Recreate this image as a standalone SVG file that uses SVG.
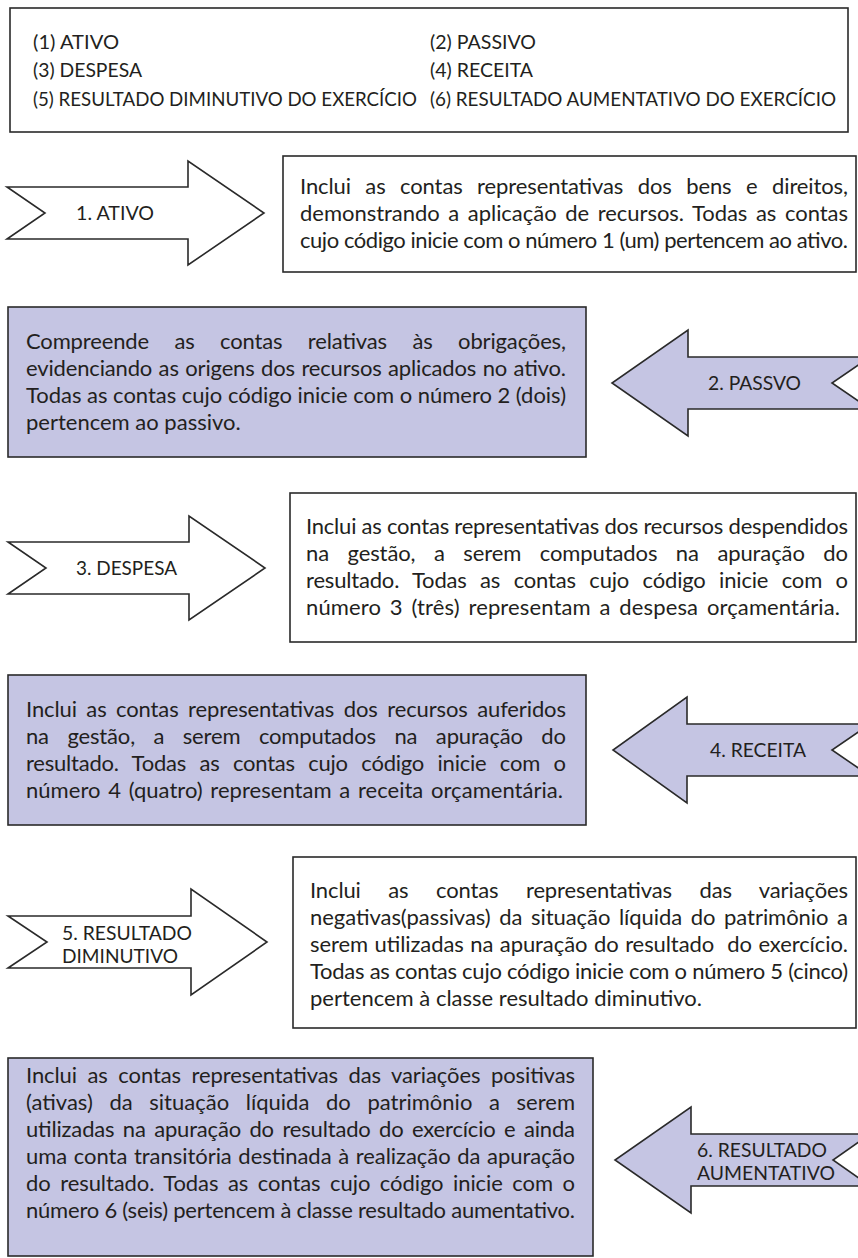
<svg xmlns="http://www.w3.org/2000/svg" width="858" height="1258" viewBox="0 0 858 1258">
<style>
.t{font-family:Lato,"Liberation Sans",sans-serif;font-size:22px;fill:#231f20}
.lg{font-size:20px}
.le{font-size:19px}
.wb{fill:#ffffff;stroke:#2a2a2a;stroke-width:1.6}
.pb{fill:#c5c5e3;stroke:#2a2a2a;stroke-width:1.6}
.ar{stroke-linejoin:miter}
</style>
<rect width="858" height="1258" fill="#ffffff"/>
<g id="legend">
<rect class="wb" x="10" y="8" width="838" height="124"/>
<text class="t le" x="33" y="49" textLength="86" lengthAdjust="spacingAndGlyphs">(1) ATIVO</text>
<text class="t le" x="430" y="49" textLength="106" lengthAdjust="spacingAndGlyphs">(2) PASSIVO</text>
<text class="t le" x="33" y="77" textLength="109" lengthAdjust="spacingAndGlyphs">(3) DESPESA</text>
<text class="t le" x="430" y="77" textLength="103" lengthAdjust="spacingAndGlyphs">(4) RECEITA</text>
<text class="t le" x="33" y="106" textLength="384" lengthAdjust="spacingAndGlyphs">(5) RESULTADO DIMINUTIVO DO EXERCÍCIO</text>
<text class="t le" x="430" y="106" textLength="406" lengthAdjust="spacingAndGlyphs">(6) RESULTADO AUMENTATIVO DO EXERCÍCIO</text>
</g>
<g id="arrow-1">
<path class="wb ar" d="M7,187 L188,187 L188,161 L264,213 L188,265 L188,239 L7,239 L45,213 Z"/>
<text class="t lg" x="76" y="220" textLength="78" lengthAdjust="spacingAndGlyphs">1. ATIVO</text>
</g>
<g id="box-1">
<rect class="wb" x="283" y="156" width="573" height="116"/>
<text class="t" x="300" y="194" word-spacing="9" textLength="548" lengthAdjust="spacing">Inclui as contas representativas dos bens e direitos,</text>
<text class="t" x="300" y="221" word-spacing="3" textLength="548" lengthAdjust="spacing">demonstrando a aplicação de recursos. Todas as contas</text>
<text class="t" x="300" y="248" textLength="548" lengthAdjust="spacing">cujo código inicie com o número 1 (um) pertencem ao ativo.</text>
</g>
<g id="box-2">
<rect class="pb" x="8" y="307" width="578" height="150"/>
<text class="t" x="26" y="349" word-spacing="20" textLength="540" lengthAdjust="spacing">Compreende as contas relativas às obrigações,</text>
<text class="t" x="26" y="376" word-spacing="1" textLength="540" lengthAdjust="spacing">evidenciando as origens dos recursos aplicados no ativo.</text>
<text class="t" x="26" y="403" textLength="540" lengthAdjust="spacing">Todas as contas cujo código inicie com o número 2 (dois)</text>
<text class="t" x="26" y="430">pertencem ao passivo.</text>
</g>
<g id="arrow-2">
<path class="pb ar" d="M870,357 L688,357 L688,330 L612,383 L688,436 L688,409 L870,409 L832,383 Z"/>
<text class="t lg" x="708" y="390" textLength="93" lengthAdjust="spacingAndGlyphs">2. PASSVO</text>
</g>
<g id="arrow-3">
<path class="wb ar" d="M8,542 L189,542 L189,516 L265,568 L189,620 L189,594 L8,594 L46,568 Z"/>
<text class="t lg" x="76" y="575" textLength="101" lengthAdjust="spacingAndGlyphs">3. DESPESA</text>
</g>
<g id="box-3">
<rect class="wb" x="290" y="493" width="566" height="149"/>
<text class="t" x="306" y="534" textLength="542" lengthAdjust="spacing">Inclui as contas representativas dos recursos despendidos</text>
<text class="t" x="306" y="561" word-spacing="13" textLength="542" lengthAdjust="spacing">na gestão, a serem computados na apuração do</text>
<text class="t" x="306" y="588" word-spacing="8" textLength="542" lengthAdjust="spacing">resultado. Todas as contas cujo código inicie com o</text>
<text class="t" x="306" y="615" word-spacing="3" textLength="534" lengthAdjust="spacing">número 3 (três) representam a despesa orçamentária.</text>
</g>
<g id="box-4">
<rect class="pb" x="8" y="675" width="578" height="150"/>
<text class="t" x="26" y="717" word-spacing="4" textLength="540" lengthAdjust="spacing">Inclui as contas representativas dos recursos auferidos</text>
<text class="t" x="26" y="744" word-spacing="13" textLength="540" lengthAdjust="spacing">na gestão, a serem computados na apuração do</text>
<text class="t" x="26" y="771" word-spacing="8" textLength="540" lengthAdjust="spacing">resultado. Todas as contas cujo código inicie com o</text>
<text class="t" x="26" y="798" word-spacing="2" textLength="537" lengthAdjust="spacing">número 4 (quatro) representam a receita orçamentária.</text>
</g>
<g id="arrow-4">
<path class="pb ar" d="M870,724 L687,724 L687,697 L613,750 L687,803 L687,776 L870,776 L832,750 Z"/>
<text class="t lg" x="710" y="757" textLength="96" lengthAdjust="spacingAndGlyphs">4. RECEITA</text>
</g>
<g id="arrow-5">
<path class="wb ar" d="M8,916 L191,916 L191,889 L267,942 L191,995 L191,968 L8,968 L47,942 Z"/>
<text class="t lg" x="62" y="940" textLength="130" lengthAdjust="spacingAndGlyphs">5. RESULTADO</text>
<text class="t lg" x="62" y="963" textLength="116" lengthAdjust="spacingAndGlyphs">DIMINUTIVO</text>
</g>
<g id="box-5">
<rect class="wb" x="293" y="857" width="563" height="171"/>
<text class="t" x="310" y="898" word-spacing="22" textLength="538" lengthAdjust="spacing">Inclui as contas representativas das variações</text>
<text class="t" x="310" y="925" word-spacing="3" textLength="538" lengthAdjust="spacing">negativas(passivas) da situação líquida do patrimônio a</text>
<text class="t" x="310" y="952" word-spacing="1" textLength="538" lengthAdjust="spacing" style="white-space:pre">serem utilizadas na apuração do resultado  do exercício.</text>
<text class="t" x="310" y="979" textLength="538" lengthAdjust="spacing">Todas as contas cujo código inicie com o número 5 (cinco)</text>
<text class="t" x="310" y="1006">pertencem à classe resultado diminutivo.</text>
</g>
<g id="box-6">
<rect class="pb" x="8" y="1058" width="585" height="198"/>
<text class="t" x="26" y="1083" word-spacing="5" textLength="549" lengthAdjust="spacing">Inclui as contas representativas das variações positivas</text>
<text class="t" x="26" y="1110" word-spacing="11" textLength="549" lengthAdjust="spacing">(ativas) da situação líquida do patrimônio a serem</text>
<text class="t" x="26" y="1137" word-spacing="3" textLength="549" lengthAdjust="spacing">utilizadas na apuração do resultado do exercício e ainda</text>
<text class="t" x="26" y="1164" word-spacing="1" textLength="549" lengthAdjust="spacing">uma conta transitória destinada à realização da apuração</text>
<text class="t" x="26" y="1191" word-spacing="4" textLength="549" lengthAdjust="spacing">do resultado. Todas as contas cujo código inicie com o</text>
<text class="t" x="26" y="1218" textLength="549" lengthAdjust="spacing">número 6 (seis) pertencem à classe resultado aumentativo.</text>
</g>
<g id="arrow-6">
<path class="pb ar" d="M870,1134 L691,1134 L691,1107 L615,1160 L691,1213 L691,1186 L870,1186 L833,1160 Z"/>
<text class="t lg" x="697" y="1157" textLength="130" lengthAdjust="spacingAndGlyphs">6. RESULTADO</text>
<text class="t lg" x="697" y="1180" textLength="138" lengthAdjust="spacingAndGlyphs">AUMENTATIVO</text>
</g>
<g id="connectors"/>
</svg>
